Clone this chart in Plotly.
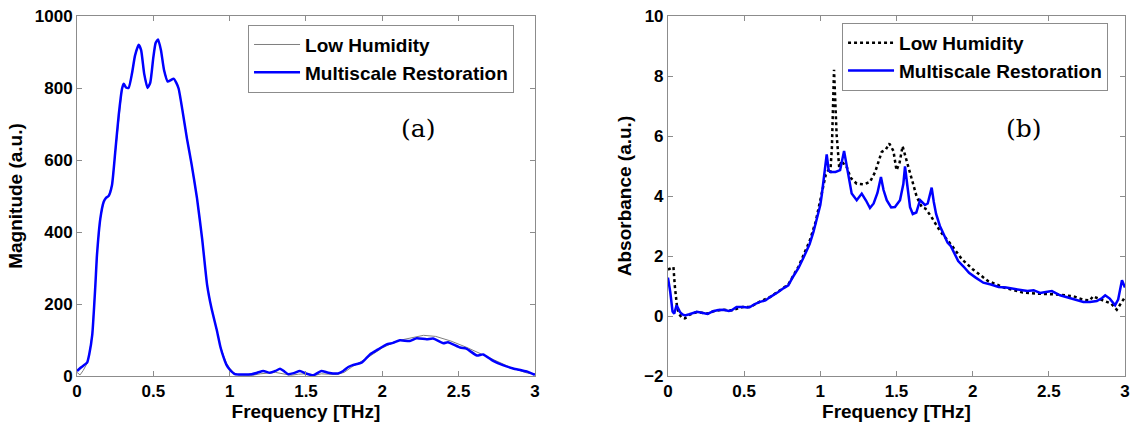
import plotly.graph_objects as go
from plotly.subplots import make_subplots

# ---------------- Panel (a): Magnitude ----------------
freq_mag_restored = [0.00, 0.03, 0.066, 0.08, 0.10, 0.12, 0.131, 0.153, 0.175, 0.19, 0.207, 0.229, 0.25, 0.273,
                     0.295, 0.306, 0.32, 0.338, 0.36, 0.38, 0.404, 0.42, 0.44, 0.462, 0.48, 0.50, 0.515, 0.531,
                     0.55, 0.57, 0.594, 0.615, 0.633, 0.65, 0.666, 0.69, 0.72, 0.75, 0.786, 0.82, 0.852, 0.88,
                     0.917, 0.94, 0.961, 0.98, 1.00, 1.035, 1.08, 1.144, 1.18, 1.22, 1.264, 1.30, 1.33, 1.36,
                     1.384, 1.42, 1.46, 1.50, 1.548, 1.60, 1.646, 1.71, 1.744, 1.777, 1.81, 1.864, 1.919, 1.973,
                     2.028, 2.07, 2.115, 2.18, 2.225, 2.29, 2.333, 2.40, 2.43, 2.51, 2.55, 2.62, 2.66, 2.726,
                     2.79, 2.857, 2.91, 2.95, 2.99, 3.00]
mag_restored = [14, 25, 37, 60, 115, 250, 337, 438, 484, 495, 500, 530, 620, 724,
                798, 812, 802, 800, 840, 890, 920, 905, 840, 800, 815, 885, 925, 935,
                905, 850, 818, 822, 826, 815, 798, 740, 660, 590, 494, 380, 254, 190,
                125, 80, 51, 30, 18, 5, 4, 5, 9, 14, 9, 14, 20, 12,
                5, 8, 14, 7, 2, 14, 9, 7, 14, 25, 31, 37, 60, 74,
                88, 92, 99, 97, 105, 102, 104, 91, 94, 79, 76, 57, 60, 42,
                30, 21, 16, 12, 5, 4]

freq_mag_low = [0.00, 0.02, 0.04, 0.066, 0.08, 0.10, 0.12, 0.131, 0.153, 0.175, 0.19, 0.207, 0.229, 0.25, 0.273,
                0.295, 0.306, 0.32, 0.338, 0.36, 0.38, 0.404, 0.42, 0.44, 0.462, 0.48, 0.50, 0.515, 0.531,
                0.55, 0.57, 0.594, 0.615, 0.633, 0.65, 0.666, 0.69, 0.72, 0.75, 0.786, 0.82, 0.852, 0.88,
                0.917, 0.94, 0.961, 0.98, 1.00, 1.03, 1.06, 1.10, 1.15, 1.20, 1.25, 1.30, 1.35, 1.40,
                1.45, 1.50, 1.55, 1.60, 1.65, 1.70, 1.75, 1.80, 1.90, 2.00, 2.10, 2.20, 2.27, 2.35,
                2.45, 2.55, 2.65, 2.75, 2.85, 2.95, 3.00]
mag_low = [10, 3, 15, 35, 60, 118, 252, 337, 438, 484, 495, 500, 530, 620, 724,
           798, 812, 802, 800, 840, 890, 920, 905, 840, 800, 815, 885, 925, 935,
           905, 850, 818, 822, 826, 815, 798, 740, 660, 590, 494, 380, 254, 190,
           125, 82, 55, 35, 22, 8, 3, 2, 2, 6, 8, 10, 6, 2,
           5, 6, 1, 6, 5, 4, 10, 25, 50, 78, 98, 108, 113, 110,
           97, 80, 60, 40, 22, 8, 5]

# ---------------- Panel (b): Absorbance ----------------
freq_abs_restored = [0.000, 0.015, 0.030, 0.041, 0.057, 0.079, 0.095, 0.112, 0.14, 0.166, 0.19, 0.23, 0.26,
                     0.297, 0.33, 0.363, 0.40, 0.418, 0.45, 0.494, 0.52, 0.538, 0.57, 0.604, 0.64, 0.67,
                     0.70, 0.724, 0.76, 0.79, 0.82, 0.857, 0.89, 0.93, 0.955, 0.976, 1.00, 1.01, 1.03,
                     1.042, 1.055, 1.068, 1.10, 1.13, 1.156, 1.17, 1.184, 1.206, 1.239, 1.272, 1.30, 1.326,
                     1.35, 1.375, 1.398, 1.415, 1.436, 1.465, 1.49, 1.523, 1.545, 1.556, 1.57, 1.589, 1.607,
                     1.63, 1.655, 1.687, 1.705, 1.731, 1.745, 1.76, 1.785, 1.81, 1.835, 1.857, 1.88, 1.905,
                     1.94, 1.976, 2.02, 2.07, 2.12, 2.17, 2.22, 2.26, 2.31, 2.36, 2.40, 2.443, 2.48, 2.52,
                     2.574, 2.62, 2.66, 2.70, 2.727, 2.77, 2.815, 2.85, 2.87, 2.90, 2.935, 2.955, 2.97,
                     2.98, 2.994, 3.00]
abs_restored = [1.28, 0.80, 0.15, 0.08, 0.36, 0.13, 0.05, 0.02, 0.06, 0.11, 0.14, 0.10, 0.07,
                0.16, 0.20, 0.21, 0.17, 0.19, 0.30, 0.30, 0.28, 0.30, 0.40, 0.47, 0.52, 0.63,
                0.72, 0.80, 0.93, 1.02, 1.30, 1.60, 1.95, 2.40, 2.80, 3.20, 3.70, 4.05, 4.90,
                5.39, 4.85, 4.80, 4.80, 4.86, 5.50, 5.10, 4.75, 4.08, 3.86, 4.08, 3.85, 3.60,
                3.75, 4.10, 4.63, 4.20, 3.86, 3.62, 3.63, 3.86, 4.40, 4.99, 4.40, 3.63, 3.40,
                3.45, 3.86, 3.70, 3.75, 4.28, 3.80, 3.40, 3.00, 2.72, 2.45, 2.33, 2.10, 1.83,
                1.65, 1.44, 1.28, 1.11, 1.05, 0.97, 0.95, 0.91, 0.87, 0.83, 0.86, 0.77, 0.80, 0.83,
                0.69, 0.62, 0.56, 0.50, 0.47, 0.47, 0.50, 0.60, 0.69, 0.58, 0.36, 0.55, 0.91,
                1.19, 1.02, 0.95]

freq_abs_low = [0.000, 0.036, 0.045, 0.06, 0.075, 0.09, 0.11, 0.13, 0.14, 0.166, 0.19, 0.23, 0.26, 0.30,
                0.36, 0.42, 0.49, 0.54, 0.60, 0.67, 0.72, 0.79, 0.857, 0.93, 0.97, 1.00, 1.036, 1.053,
                1.065, 1.076, 1.09, 1.107, 1.124, 1.14, 1.151, 1.167, 1.20, 1.239, 1.286, 1.326, 1.36,
                1.403, 1.43, 1.453, 1.48, 1.50, 1.52, 1.54, 1.56, 1.589, 1.633, 1.667, 1.69, 1.726,
                1.786, 1.857, 1.93, 2.00, 2.10, 2.21, 2.33, 2.443, 2.55, 2.66, 2.727, 2.77, 2.79,
                2.826, 2.87, 2.91, 2.946, 2.97, 3.00]
abs_low = [1.55, 1.63, 1.00, 0.28, 0.05, -0.05, -0.08, -0.02, 0.04, 0.10, 0.13, 0.10, 0.08, 0.16,
           0.21, 0.19, 0.30, 0.30, 0.47, 0.63, 0.80, 1.05, 1.65, 2.50, 3.15, 3.83, 4.72, 4.86,
           4.75, 5.60, 8.21, 6.05, 4.95, 5.17, 5.08, 5.05, 4.60, 4.41, 4.39, 4.47, 4.80,
           5.47, 5.55, 5.75, 5.50, 4.86, 5.10, 5.66, 5.30, 4.75, 3.97, 3.62, 3.58, 3.33,
           2.83, 2.39, 1.89, 1.56, 1.17, 0.94, 0.78, 0.74, 0.72, 0.66, 0.54, 0.52, 0.66,
           0.58, 0.50, 0.41, 0.21, 0.41, 0.63]

x_ticks = [0, 0.5, 1, 1.5, 2, 2.5, 3]
x_tick_labels = ["0", "0.5", "1", "1.5", "2", "2.5", "3"]
y_ticks_a = [0, 200, 400, 600, 800, 1000]
y_ticks_b = [-2, 0, 2, 4, 6, 8, 10]

FONT = "Liberation Sans, Arial, Helvetica, sans-serif"
AX = "#8c8c8c"

fig = make_subplots(rows=1, cols=2, horizontal_spacing=0.1)

fig.add_trace(go.Scatter(x=freq_mag_low, y=mag_low, mode="lines", name="Low Humidity",
                         line=dict(color="#7f7f7f", width=1), legend="legend"), row=1, col=1)
fig.add_trace(go.Scatter(x=freq_mag_restored, y=mag_restored, mode="lines", name="Multiscale Restoration",
                         line=dict(color="#0000ff", width=2.5, shape="spline", smoothing=0.5),
                         legend="legend"), row=1, col=1)
fig.add_trace(go.Scatter(x=freq_abs_low, y=abs_low, mode="lines", name="Low Humidity",
                         line=dict(color="black", width=2.5, dash="dot"), legend="legend2"), row=1, col=2)
fig.add_trace(go.Scatter(x=freq_abs_restored, y=abs_restored, mode="lines", name="Multiscale Restoration",
                         line=dict(color="#0000ff", width=2.5), legend="legend2"), row=1, col=2)

axis_common = dict(showline=True, linecolor=AX, linewidth=1, mirror="ticks", ticks="inside",
                   ticklen=5, tickcolor=AX, showgrid=False, zeroline=False, automargin=False,
                   tickfont=dict(family=FONT, size=17, color="black", weight="bold"))
title_font = dict(family=FONT, size=19, color="black", weight="bold")

fig.update_xaxes(**axis_common, range=[0, 3], tickvals=x_ticks, ticktext=x_tick_labels,
                 title=dict(text="Frequency [THz]", font=title_font, standoff=6))
fig.update_xaxes(domain=[0, 0.437], row=1, col=1)
fig.update_xaxes(domain=[0.5639, 1], row=1, col=2)
fig.update_yaxes(**axis_common)
fig.update_yaxes(range=[0, 1000], tickvals=y_ticks_a, domain=[0, 1],
                 title=dict(text="Magnitude (a.u.)", font=title_font, standoff=7), row=1, col=1)
fig.update_yaxes(range=[-2, 10], tickvals=y_ticks_b, domain=[0, 1],
                 title=dict(text="Absorbance (a.u.)", font=title_font, standoff=7), row=1, col=2)

legend_common = dict(bgcolor="white", bordercolor=AX, borderwidth=1, xanchor="left", yanchor="top",
                     font=dict(family=FONT, size=19, color="black", weight="bold"),
                     itemwidth=46, tracegroupgap=0)
fig.update_layout(
    width=1138, height=422,
    margin=dict(l=77, r=13, t=16, b=46),
    paper_bgcolor="white", plot_bgcolor="white",
    showlegend=True,
    legend=dict(x=0.1632, y=0.976, **legend_common),
    legend2=dict(x=0.73, y=0.981, **legend_common),
    annotations=[
        dict(text="(a)", xref="x domain", yref="y domain", x=(437 - 77) / 458, y=(376 - 112) / 360,
             showarrow=False, font=dict(family="DejaVu Serif, serif", size=25, color="black")),
        dict(text="(b)", xref="x2 domain", yref="y2 domain", x=(1044 - 668) / 457, y=(376 - 112) / 360,
             showarrow=False, font=dict(family="DejaVu Serif, serif", size=25, color="black")),
    ],
)

fig.write_html("out.html")
